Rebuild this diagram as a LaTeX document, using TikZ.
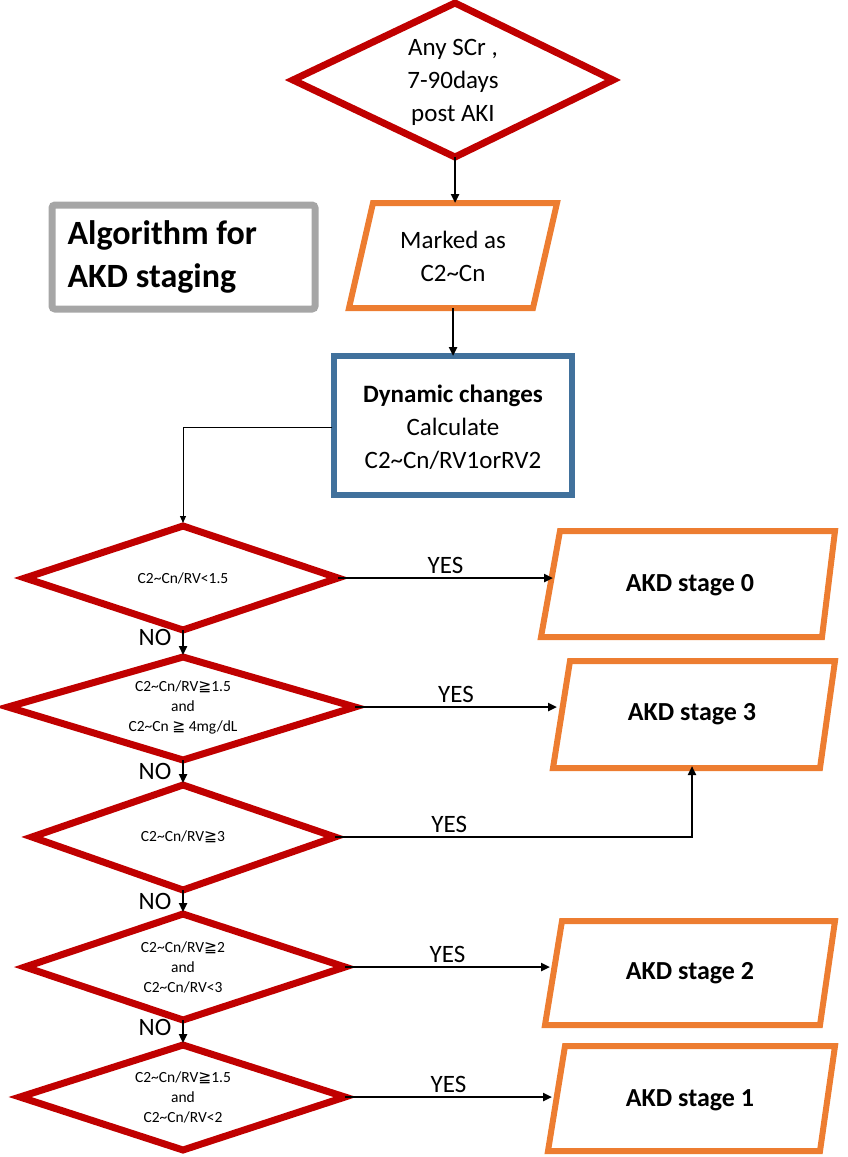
\documentclass[tikz,border=0pt]{standalone}
\usepackage{fontspec}
\setmainfont{Carlito}
\newfontfamily\symf{DejaVu Sans}
\usetikzlibrary{arrows.meta}
\newcommand\tld{\textasciitilde}
\newcommand\mygeq{{\symf ≧}}
\definecolor{dred}{RGB}{192,0,0}
\definecolor{org}{RGB}{237,125,49}
\definecolor{blu}{RGB}{65,113,156}
\definecolor{gry}{RGB}{166,166,166}
\begin{document}
\begin{tikzpicture}[x=1pt,y=-1pt,
  dia/.style={draw=dred,line width=7pt,line join=miter},
  par/.style={draw=org,line width=6pt,line join=miter},
  arr/.style={-{Triangle[length=9pt,width=8pt]},line width=2.8pt},
  big/.style={font=\fontsize{25}{33}\selectfont,align=center},
  sm/.style={font=\fontsize{15.5}{20}\selectfont,align=center},
  stg/.style={font=\fontsize{26}{30}\selectfont\bfseries},
  lab/.style={font=\fontsize{25}{28}\selectfont}]
\useasboundingbox (0,0) rectangle (848,1157);
% top diamond
\draw[dia] (293,80) -- (455,3) -- (613,80) -- (455,157) -- cycle;
\node[big] (d0) at (453,82) {Any SCr ,\\7-90days\\post AKI};
\coordinate (d0b) at (455,157);
% marked
\draw[par] (373,203) -- (557,203) -- (533,308) -- (349,308) -- cycle;
\node[big] (m) at (453,256) {Marked as\\C2\tld Cn};
\coordinate (mt) at (455,203); \coordinate (mb) at (453,308);
% title
\draw[gry,line width=7pt,rounded corners=3pt] (52,205) rectangle (315,309);
\node[font=\fontsize{34}{43}\selectfont\bfseries,align=left,anchor=west] (t) at (64,257) {Algorithm for\\AKD staging};
% blue box
\draw[blu,line width=6pt] (334,356) rectangle (572,495);
\node[big] (b) at (453,427) {\textbf{Dynamic changes}\\Calculate\\C2\tld Cn/RV1orRV2};
\coordinate (bt) at (453,356); \coordinate (bl) at (332,427); \coordinate (bc) at (183,427);
\draw[arr] (d0b) -- (mt);
\draw[arr] (mb) -- (bt);
% diamonds
\draw[dia] (25,578) -- (183,526) -- (338,578) -- (183,630) -- cycle;
\node[sm] (q1) at (183,578) {C2\tld Cn/RV<1.5};
\draw[dia] (8,707) -- (183,657) -- (355,707) -- (183,760) -- cycle;
\node[sm] (q2) at (183,707) {C2\tld Cn/RV\mygeq 1.5\\and\\C2\tld Cn \mygeq\ 4mg/dL};
\draw[dia] (32,837) -- (183,785) -- (335,837) -- (183,890) -- cycle;
\node[sm] (q3) at (183,837) {C2\tld Cn/RV\mygeq 3};
\draw[dia] (25,967) -- (183,914) -- (345,967) -- (183,1020) -- cycle;
\node[sm] (q4) at (183,967) {C2\tld Cn/RV\mygeq 2\\and\\C2\tld Cn/RV<3};
\draw[dia] (20,1097) -- (183,1045) -- (345,1097) -- (183,1150) -- cycle;
\node[sm] (q5) at (183,1097) {C2\tld Cn/RV\mygeq 1.5\\and\\C2\tld Cn/RV<2};
\coordinate (q1t) at (183,523);
\draw[-{Triangle[length=7pt,width=6pt]},line width=1pt] (bl) -- (bc) -- (q1t);
% stage boxes
\draw[par] (560,531) -- (835,531) -- (822,637) -- (541,637) -- cycle;
\node[stg] (s0) at (690,585) {AKD stage 0};
\draw[par] (570,661) -- (835,661) -- (820,768) -- (553,768) -- cycle;
\node[stg] (s3) at (692,714) {AKD stage 3};
\draw[par] (562,921) -- (835,921) -- (820,1025) -- (545,1025) -- cycle;
\node[stg] (s2) at (690,973) {AKD stage 2};
\draw[par] (565,1046) -- (835,1046) -- (820,1151) -- (548,1151) -- cycle;
\node[stg] (s1) at (690,1100) {AKD stage 1};
% yes arrows
\coordinate (q1r) at (338,578); \coordinate (s0l) at (553,578);
\draw[arr] (q1r) -- node[lab,above=0pt]{YES} (s0l);
\coordinate (q2r) at (355,707); \coordinate (s3l) at (557,707);
\draw[arr] (q2r) -- node[lab,above=0pt]{YES} (s3l);
\coordinate (q3r) at (335,837); \coordinate (s3b) at (692,766);
\draw[arr] (q3r) -- node[lab,above=0pt,pos=0.32]{YES} (692,837) -- (s3b);
\coordinate (q4r) at (345,967); \coordinate (s2l) at (550,967);
\draw[arr] (q4r) -- node[lab,above=0pt]{YES} (s2l);
\coordinate (q5r) at (345,1097); \coordinate (s1l) at (552,1097);
\draw[arr] (q5r) -- node[lab,above=0pt]{YES} (s1l);
% no arrows
\foreach \a/\b/\y in {630/655/637,760/783/771,890/912/901,1020/1043/1027}{
  \draw[arr] (183,\a) -- (183,\b);
  \node[lab] at (155,\y) {NO};
}
\end{tikzpicture}
\end{document}
